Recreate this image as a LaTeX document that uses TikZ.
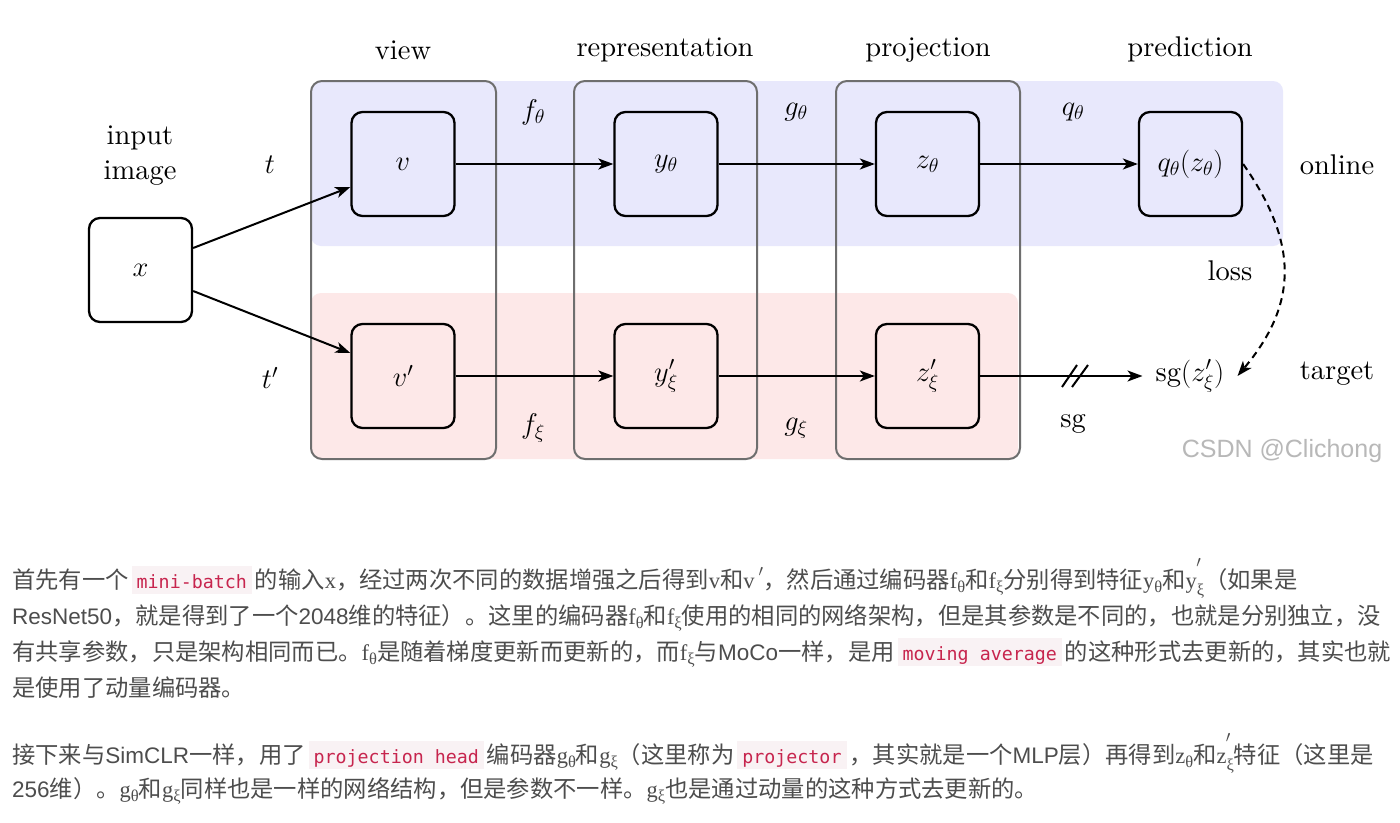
\RequirePackage{fix-cm}
\documentclass[tikz,border=0pt]{standalone}
\usepackage{fontspec}
\setmainfont{lmroman10-regular}[Extension=.otf]
\newfontfamily\cjk{Noto Sans CJK SC}
\newfontfamily\lsans{Liberation Sans}
\newfontfamily\tser{Liberation Serif}
\newfontfamily\cmono{DejaVu Sans Mono}
\usetikzlibrary{arrows.meta,calc}
\definecolor{blueband}{HTML}{E8E8FC}
\definecolor{pinkband}{HTML}{FDE8E8}
\definecolor{framegray}{HTML}{6E6E6E}
\definecolor{codebg}{HTML}{F9F2F4}
\definecolor{codered}{HTML}{C7254E}
\definecolor{bodytext}{HTML}{4D4D4D}
\definecolor{wmgray}{HTML}{B8B8B8}
\newcommand\dfont{\fontsize{28.5}{35}\selectfont}
\newcommand\bfontsz{\fontsize{23.3}{30}\selectfont}
\newcommand\lat[1]{{\lsans\fontsize{22.5}{30}\selectfont #1}}
\newcommand\code[1]{\hspace{3pt}{\setlength\fboxsep{0pt}\colorbox{codebg}{\hspace{5pt}\rule[-6pt]{0pt}{28pt}\textcolor{codered}{\cmono\fontsize{18.3}{20}\selectfont #1}\hspace{5pt}}}\hspace{3pt}}
\newcommand\tv[1]{{\tser\fontsize{22.5}{30}\selectfont #1}}
\newcommand\ms[2]{\tv{#1}\raisebox{-4pt}{\tser\fontsize{16.5}{16.5}\selectfont #2}}
\newcommand\mpr{\,\raisebox{3pt}{$^{\prime}$}}
\newcommand\msp[2]{\tv{#1}\raisebox{-7pt}{\tser\fontsize{16.5}{16.5}\selectfont #2}\llap{\raisebox{12pt}{$^{\prime}$}\hspace{3pt}}}
\begin{document}
\begin{tikzpicture}[x=1pt,y=-1pt,
  blk/.style={draw=black, line width=2.3, rounded corners=11, minimum width=103, minimum height=104, inner sep=0, font=\dfont},
  colframe/.style={draw=framegray, line width=2, rounded corners=11, minimum height=378, inner sep=0},
  lbl/.style={font=\dfont, inner sep=0},
  arr/.style={line width=2, -{Stealth[length=15pt,width=11pt,inset=4pt]}},
  bodyline/.style={anchor=base west, inner sep=0, font=\cjk\bfontsz, text=bodytext}]
\useasboundingbox (0,0) rectangle (1400,822);
\fill[white] (0,0) rectangle (1400,822);
% bands
\fill[blueband, rounded corners=10] (311,81) rectangle (1283,246);
\fill[pinkband, rounded corners=10] (311,293) rectangle (1018,459);
% column frames
\node[colframe, minimum width=185] (colview) at (403.5,270) {};
\node[colframe, minimum width=183] (colrep) at (665.5,270) {};
\node[colframe, minimum width=184] (colproj) at (928,270) {};
% titles
\node[lbl, anchor=base] (tview) at (403,59) {view};
\node[lbl, anchor=base] (trep) at (665,56) {representation};
\node[lbl, anchor=base] (tproj) at (928,56) {projection};
\node[lbl, anchor=base] (tpred) at (1190,56) {prediction};
\node[lbl, align=center] (tinput) at (140,156) {input\\image};
% blocks
\node[blk] (x) at (140.5,270) {$x$};
\node[blk] (v) at (403,164) {$v$};
\node[blk] (vp) at (403,376) {$v'$};
\node[blk] (y) at (666,164) {$y_\theta$};
\node[blk] (yp) at (666,376) {$y'_\xi$};
\node[blk] (z) at (927.5,164) {$z_\theta$};
\node[blk] (zp) at (927.5,376) {$z'_\xi$};
\node[blk] (q) at (1190.5,164) {$q_\theta(z_\theta)$};
\node[lbl, inner xsep=13] (sg) at (1190,376) {sg$(z'_\xi)$};
% labels
\node[lbl] (lt) at (270,165) {$t$};
\node[lbl] (ltp) at (270,378) {$t'$};
\node[lbl] (lf) at (533,112) {$f_\theta$};
\node[lbl] (lg) at (796,112) {$g_\theta$};
\node[lbl] (lq) at (1073,112) {$q_\theta$};
\node[lbl] (lfx) at (533,428) {$f_\xi$};
\node[lbl] (lgx) at (796,428) {$g_\xi$};
\node[lbl] (lsg) at (1073,424) {sg};
\node[lbl] (lonline) at (1337,165) {online};
\node[lbl] (ltarget) at (1337,374) {target};
\node[lbl] (lloss) at (1230,271) {loss};
% arrows
\draw[arr] ($(x.east)+(0,-22)$) -- ($(v.west)+(0,23)$);
\draw[arr] ($(x.east)+(0,21)$) -- ($(vp.west)+(0,-23)$);
\draw[arr] (v) -- (y);
\draw[arr] (y) -- (z);
\draw[arr] (z) -- (q);
\draw[arr] (vp) -- (yp);
\draw[arr] (yp) -- (zp);
\draw[arr] (zp) -- (sg);
\coordinate (s1a) at (1062,387); \coordinate (s1b) at (1077,365);
\coordinate (s2a) at (1072,387); \coordinate (s2b) at (1088,365);
\draw[line width=2] (s1a) -- (s1b);
\draw[line width=2] (s2a) -- (s2b);
\draw[line width=2, dashed, dash pattern=on 7pt off 5pt, -{Stealth[length=15pt,width=11pt,inset=4pt]}] (q.east) to[out=-55,in=50,looseness=1.15] (sg.east);
% watermark
\node[font=\lsans\fontsize{25}{30}\selectfont, text=wmgray, inner sep=0] (wm) at (1282,451) {CSDN @Clichong};
% body text
\node[bodyline] (p1) at (12,588) {首先有一个\code{mini-batch}的输入\tv{x}，经过两次不同的数据增强之后得到\tv{v}和\tv{v}\mpr，然后通过编码器\ms{f}{θ}和\ms{f}{ξ}分别得到特征\ms{y}{θ}和\msp{y}{ξ}（如果是};
\node[bodyline] (p2) at (12,624) {\lat{ResNet50}，就是得到了一个\lat{2048}维的特征）。这里的编码器\ms{f}{θ}和\ms{f}{ξ}使用的相同的网络架构，但是其参数是不同的，也就是分别独立，没};
\node[bodyline] (p3) at (12,660) {有共享参数，只是架构相同而已。\ms{f}{θ}是随着梯度更新而更新的，而\ms{f}{ξ}与\lat{MoCo}一样，是用\code{moving average}的这种形式去更新的，其实也就};
\node[bodyline] (p4) at (12,696) {是使用了动量编码器。};
\node[bodyline] (p5) at (12,763) {接下来与\lat{SimCLR}一样，用了\code{projection head}编码器\ms{g}{θ}和\ms{g}{ξ}（这里称为\code{projector}，其实就是一个\lat{MLP}层）再得到\ms{z}{θ}和\msp{z}{ξ}特征（这里是};
\node[bodyline] (p6) at (12,797) {\lat{256}维）。\ms{g}{θ}和\ms{g}{ξ}同样也是一样的网络结构，但是参数不一样。\ms{g}{ξ}也是通过动量的这种方式去更新的。};
\end{tikzpicture}
\end{document}
